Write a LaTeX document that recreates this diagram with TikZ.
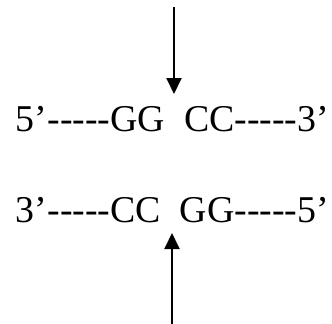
\documentclass[tikz,border=0pt]{standalone}
\usepackage{fontspec}
\setmainfont[Ligatures=NoCommon]{Liberation Serif}
\usetikzlibrary{arrows.meta}
\newcommand{\hy}{-{}-{}-{}-{}-}
\begin{document}
\begin{tikzpicture}[x=1bp,y=-1bp,
  seq/.style={font=\fontsize{38}{40}\selectfont, inner sep=0pt, anchor=base},
  arr/.style={line width=2bp, -{Triangle[length=16bp,width=15bp]}}]
\useasboundingbox (0,0) rectangle (332,324);
\node[seq] (top) at (172.5,131) {5’\hy GG\ \ CC\hy 3’};
\node[seq] (bot) at (172.5,222) {3’\hy CC\ \ GG\hy 5’};
\coordinate (t0) at (174,7);
\coordinate (t1) at (174,94);
\coordinate (b0) at (172,324);
\coordinate (b1) at (172,233);
\draw[arr] (t0) -- (t1);
\draw[arr] (b0) -- (b1);
\end{tikzpicture}
\end{document}
